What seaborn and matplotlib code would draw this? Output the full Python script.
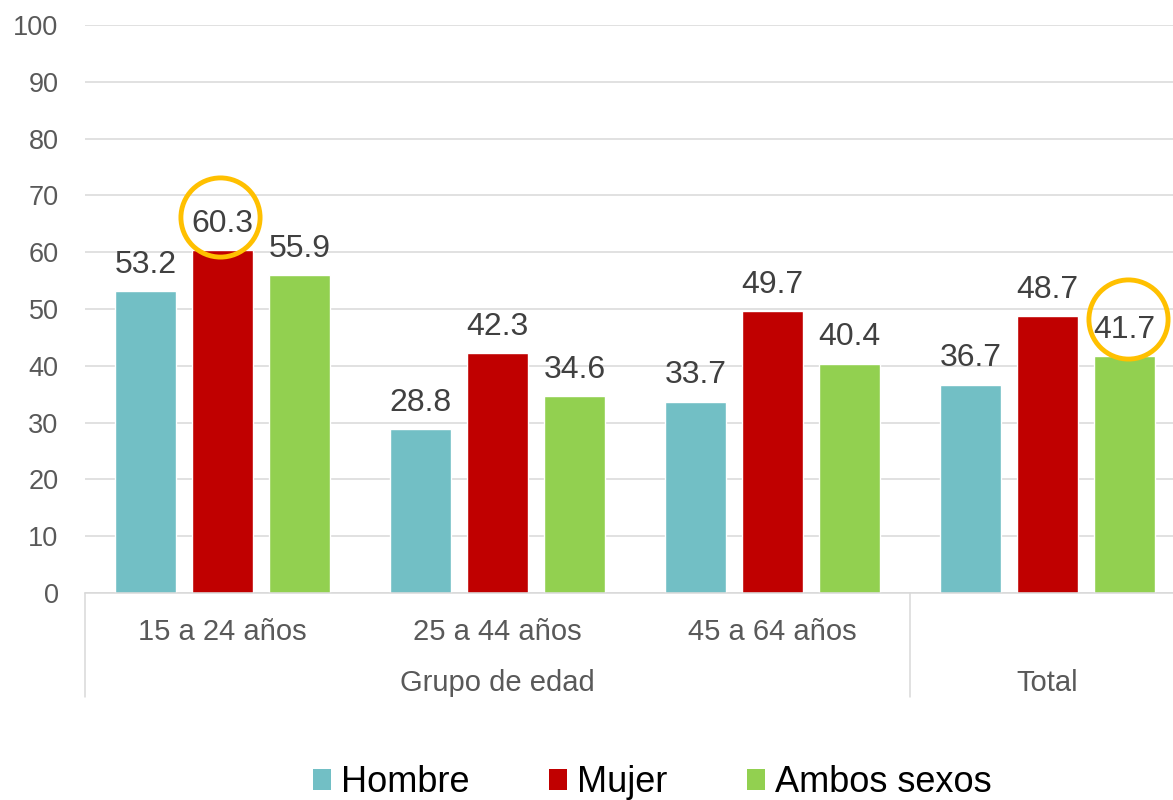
import matplotlib
matplotlib.use("Agg")
import matplotlib.pyplot as plt
import seaborn as sns
import pandas as pd
from matplotlib.transforms import offset_copy
from matplotlib.patches import Patch

# ---- data ----
categories = ["15 a 24 años", "25 a 44 años", "45 a 64 años", "Total"]
tick_labels = ["15 a 24 años", "25 a 44 años", "45 a 64 años", ""]
series = ["Hombre", "Mujer", "Ambos sexos"]
hombre = [53.2, 28.8, 33.7, 36.7]
mujer = [60.3, 42.3, 49.7, 48.7]
ambos = [55.9, 34.6, 40.4, 41.7]
groups = ["Grupo de edad", "Total"]
group_spans = [(0, 2), (3, 3)]
highlighted = [("15 a 24 años", "Mujer"), ("Total", "Ambos sexos")]
y_ticks = list(range(0, 101, 10))

colors = ["#72BFC5", "#C00000", "#92D050"]

sns.set_theme(style="white")
plt.rcParams["font.family"] = ["Liberation Sans", "DejaVu Sans"]

df = pd.DataFrame({
    "Grupo": categories * 3,
    "Sexo": [s for s in series for _ in categories],
    "Valor": hombre + mujer + ambos,
})

W, H = 1173, 800
fig = plt.figure(figsize=(W / 100, H / 100), dpi=100)
ax = fig.add_axes([85 / W, 207 / H, 1100 / W, 568 / H])

sns.barplot(data=df, x="Grupo", y="Valor", hue="Sexo", order=categories,
            hue_order=series, palette=colors, width=0.84, gap=0.22,
            saturation=1, errorbar=None, legend=False, ax=ax)

for cont in ax.containers:
    ax.bar_label(cont, fmt="%.1f", padding=8, fontsize=23, color="#404040")

ax.set_ylim(0, 100)
ax.set_xlim(-0.5, len(categories) - 0.5)
ax.set_yticks(y_ticks)
ax.yaxis.grid(True, color="#d9d9d9", lw=1.1)
ax.xaxis.grid(False)
ax.set_axisbelow(True)
for s in ["top", "right", "left"]:
    ax.spines[s].set_visible(False)
ax.spines["bottom"].set_color("#d9d9d9")
ax.spines["bottom"].set_linewidth(1.1)

ax.tick_params(axis="y", length=0, pad=19, labelsize=19.5, labelcolor="#595959")
ax.set_xticks(range(len(categories)))
ax.set_xticklabels(tick_labels)
ax.tick_params(axis="x", length=0, pad=18, labelsize=21, labelcolor="#595959")
ax.set_xlabel("")
ax.set_ylabel("")

# second-level group labels and separators
xt = ax.get_xaxis_transform()
for name, (a, b) in zip(groups, group_spans):
    ax.text((a + b) / 2, -0.1725, name, transform=xt, ha="center", va="baseline",
            fontsize=21, color="#595959")
    ax.plot([a - 0.5, a - 0.5], [0, -0.183], transform=xt, color="#d9d9d9",
            lw=1.1, clip_on=False)

# highlight circles
circle_offsets = [(-1.5, 24), (2.5, 27)]
for (cat, ser), (dx, dy) in zip(highlighted, circle_offsets):
    patch = ax.containers[series.index(ser)].patches[categories.index(cat)]
    cx = patch.get_x() + patch.get_width() / 2
    cy = patch.get_height()
    tr = offset_copy(ax.transData, fig=fig, x=dx, y=dy, units="points")
    ax.plot([cx], [cy], marker="o", ms=57, mfc="none", mec="#FFC000", mew=3.5,
            transform=tr, clip_on=False, zorder=5)

# legend
handles = [Patch(facecolor=c, edgecolor="none") for c in colors]
fig.legend(handles, series, loc="center", bbox_to_anchor=(652 / W, 17 / H),
           ncol=3, frameon=False, fontsize=26, handlelength=0.5, handleheight=0.5,
           handletextpad=0.28, columnspacing=2.2, borderpad=0, labelcolor="black")

fig.savefig("out.png", dpi=100)
